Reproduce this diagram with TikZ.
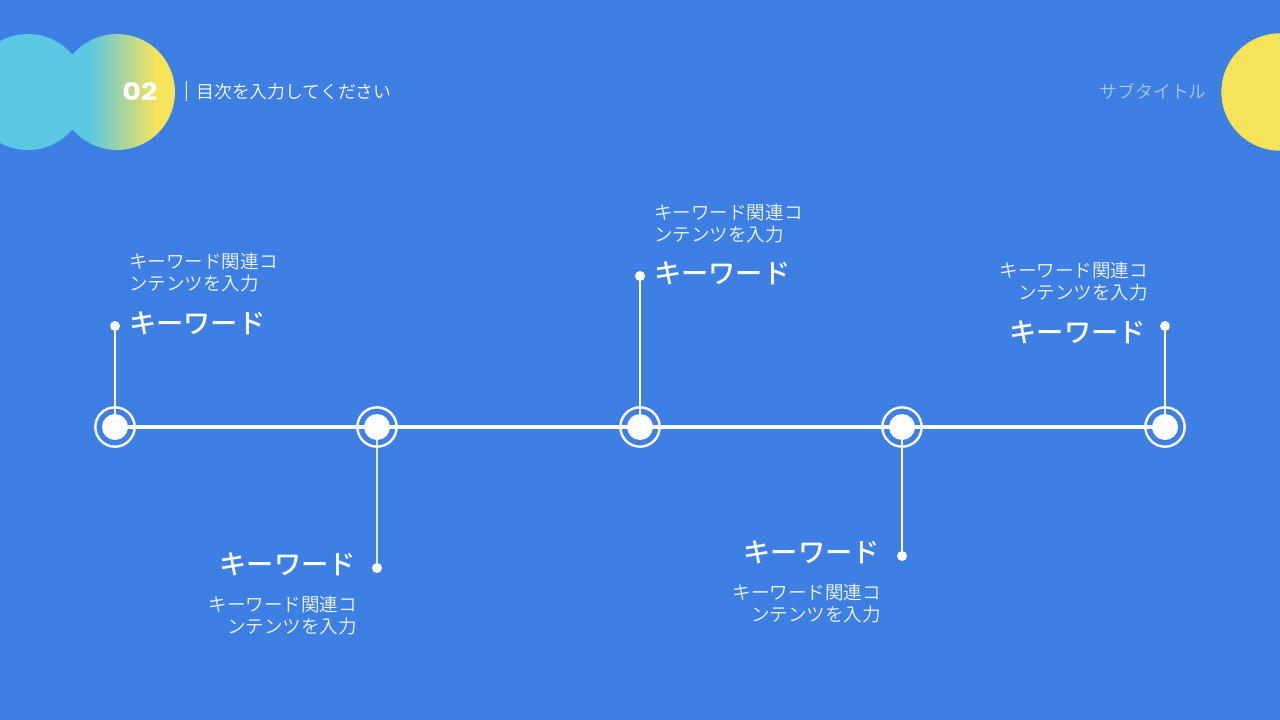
\documentclass[tikz,border=0pt]{standalone}
\usepackage{fontspec}
\newfontfamily\jp{Noto Sans CJK JP}
\newfontfamily\jpl{Noto Sans CJK JP}[UprightFont={* DemiLight}]
\newfontfamily\jpm{Noto Sans CJK JP}[UprightFont={* Medium}]
\newfontfamily\pop{Poppins}
\definecolor{bg}{HTML}{3D7FE3}
\definecolor{cyanC}{HTML}{5BC8E3}
\definecolor{yelC}{HTML}{F5E35A}
\pgfdeclarehorizontalshading{cyye}{100bp}{color(0bp)=(cyanC); color(38bp)=(cyanC); color(67bp)=(yelC); color(100bp)=(yelC)}
\begin{document}
\begin{tikzpicture}[x=0.75pt,y=-0.75pt,
 ring/.style={circle,draw=white,line width=1.8pt,inner sep=0pt,minimum size=29.5pt},
 core/.style={circle,fill=white,inner sep=0pt,minimum size=19.5pt},
 pin/.style={circle,fill=white,inner sep=0pt,minimum size=7.5pt},
 stem/.style={white,line width=1.4pt},
 tline/.style={white,line width=2.4pt},
 kw/.style={text=white,inner sep=0pt,font=\jpm\fontsize{20.4}{24}\selectfont},
 desc/.style={text=white!94!bg,inner sep=0pt,font=\jpl\fontsize{13.9}{15.9}\selectfont},
 head/.style={text=white,inner sep=0pt,font=\jpl\fontsize{13.4}{16}\selectfont},
]
\useasboundingbox (0,0) rectangle (1280,720);
\clip (0,0) rectangle (1280,720);
\fill[bg] (0,0) rectangle (1280,720);

% decorative circles
\fill[cyanC] (28,92) circle (43.5pt);
\shade[shading=cyye] (117,92) circle (43.5pt);
\fill[yelC] (1280,92) circle (44pt);

% header
\node[text=white,inner sep=0pt,font=\pop\bfseries\fontsize{18}{20}\selectfont,xscale=1.2] (num) at (140,92) {02};
\node[head] (bar) at (187,92) {|};
\node[head,anchor=west] (title) at (196,92) {目次を入力してください};
\node[head,text=white!55!bg,anchor=east] (sub) at (1207,91) {サブタイトル};

% timeline nodes
\foreach \i/\x in {1/115,2/377,3/640,4/902,5/1165}{
  \coordinate (m\i) at (\x,427);
}
\node[pin] (p1) at (115,326) {};
\node[pin] (p2) at (377,568) {};
\node[pin] (p3) at (640,276) {};
\node[pin] (p4) at (902,556) {};
\node[pin] (p5) at (1165,326) {};

\draw[tline] (m1) -- (m5);
\draw[stem] (m1) -- (p1);
\draw[stem,white!85!bg] (m2) -- (p2);
\draw[stem] (m3) -- (p3);
\draw[stem] (m4) -- (p4);
\draw[stem] (m5) -- (p5);

\foreach \i in {1,...,5}{
  \node[ring] (r\i) at (m\i) {};
  \node[core] (c\i) at (m\i) {};
}

% labels
\node[kw,anchor=west] (k1) at (129,323) {キーワード};
\node[kw,anchor=east] (k2) at (356,564) {キーワード};
\node[kw,anchor=west] (k3) at (654,273) {キーワード};
\node[kw,anchor=east] (k4) at (880,552) {キーワード};
\node[kw,anchor=east] (k5) at (1146,332) {キーワード};

\node[desc,anchor=west,align=left] (d1) at (129,272.5) {キーワード関連コ\\ンテンツを入力};
\node[desc,anchor=east,align=right] (d2) at (357,615.5) {キーワード関連コ\\ンテンツを入力};
\node[desc,anchor=west,align=left] (d3) at (654,223.5) {キーワード関連コ\\ンテンツを入力};
\node[desc,anchor=east,align=right] (d4) at (881,603.5) {キーワード関連コ\\ンテンツを入力};
\node[desc,anchor=east,align=right] (d5) at (1148,281.5) {キーワード関連コ\\ンテンツを入力};
\end{tikzpicture}
\end{document}
